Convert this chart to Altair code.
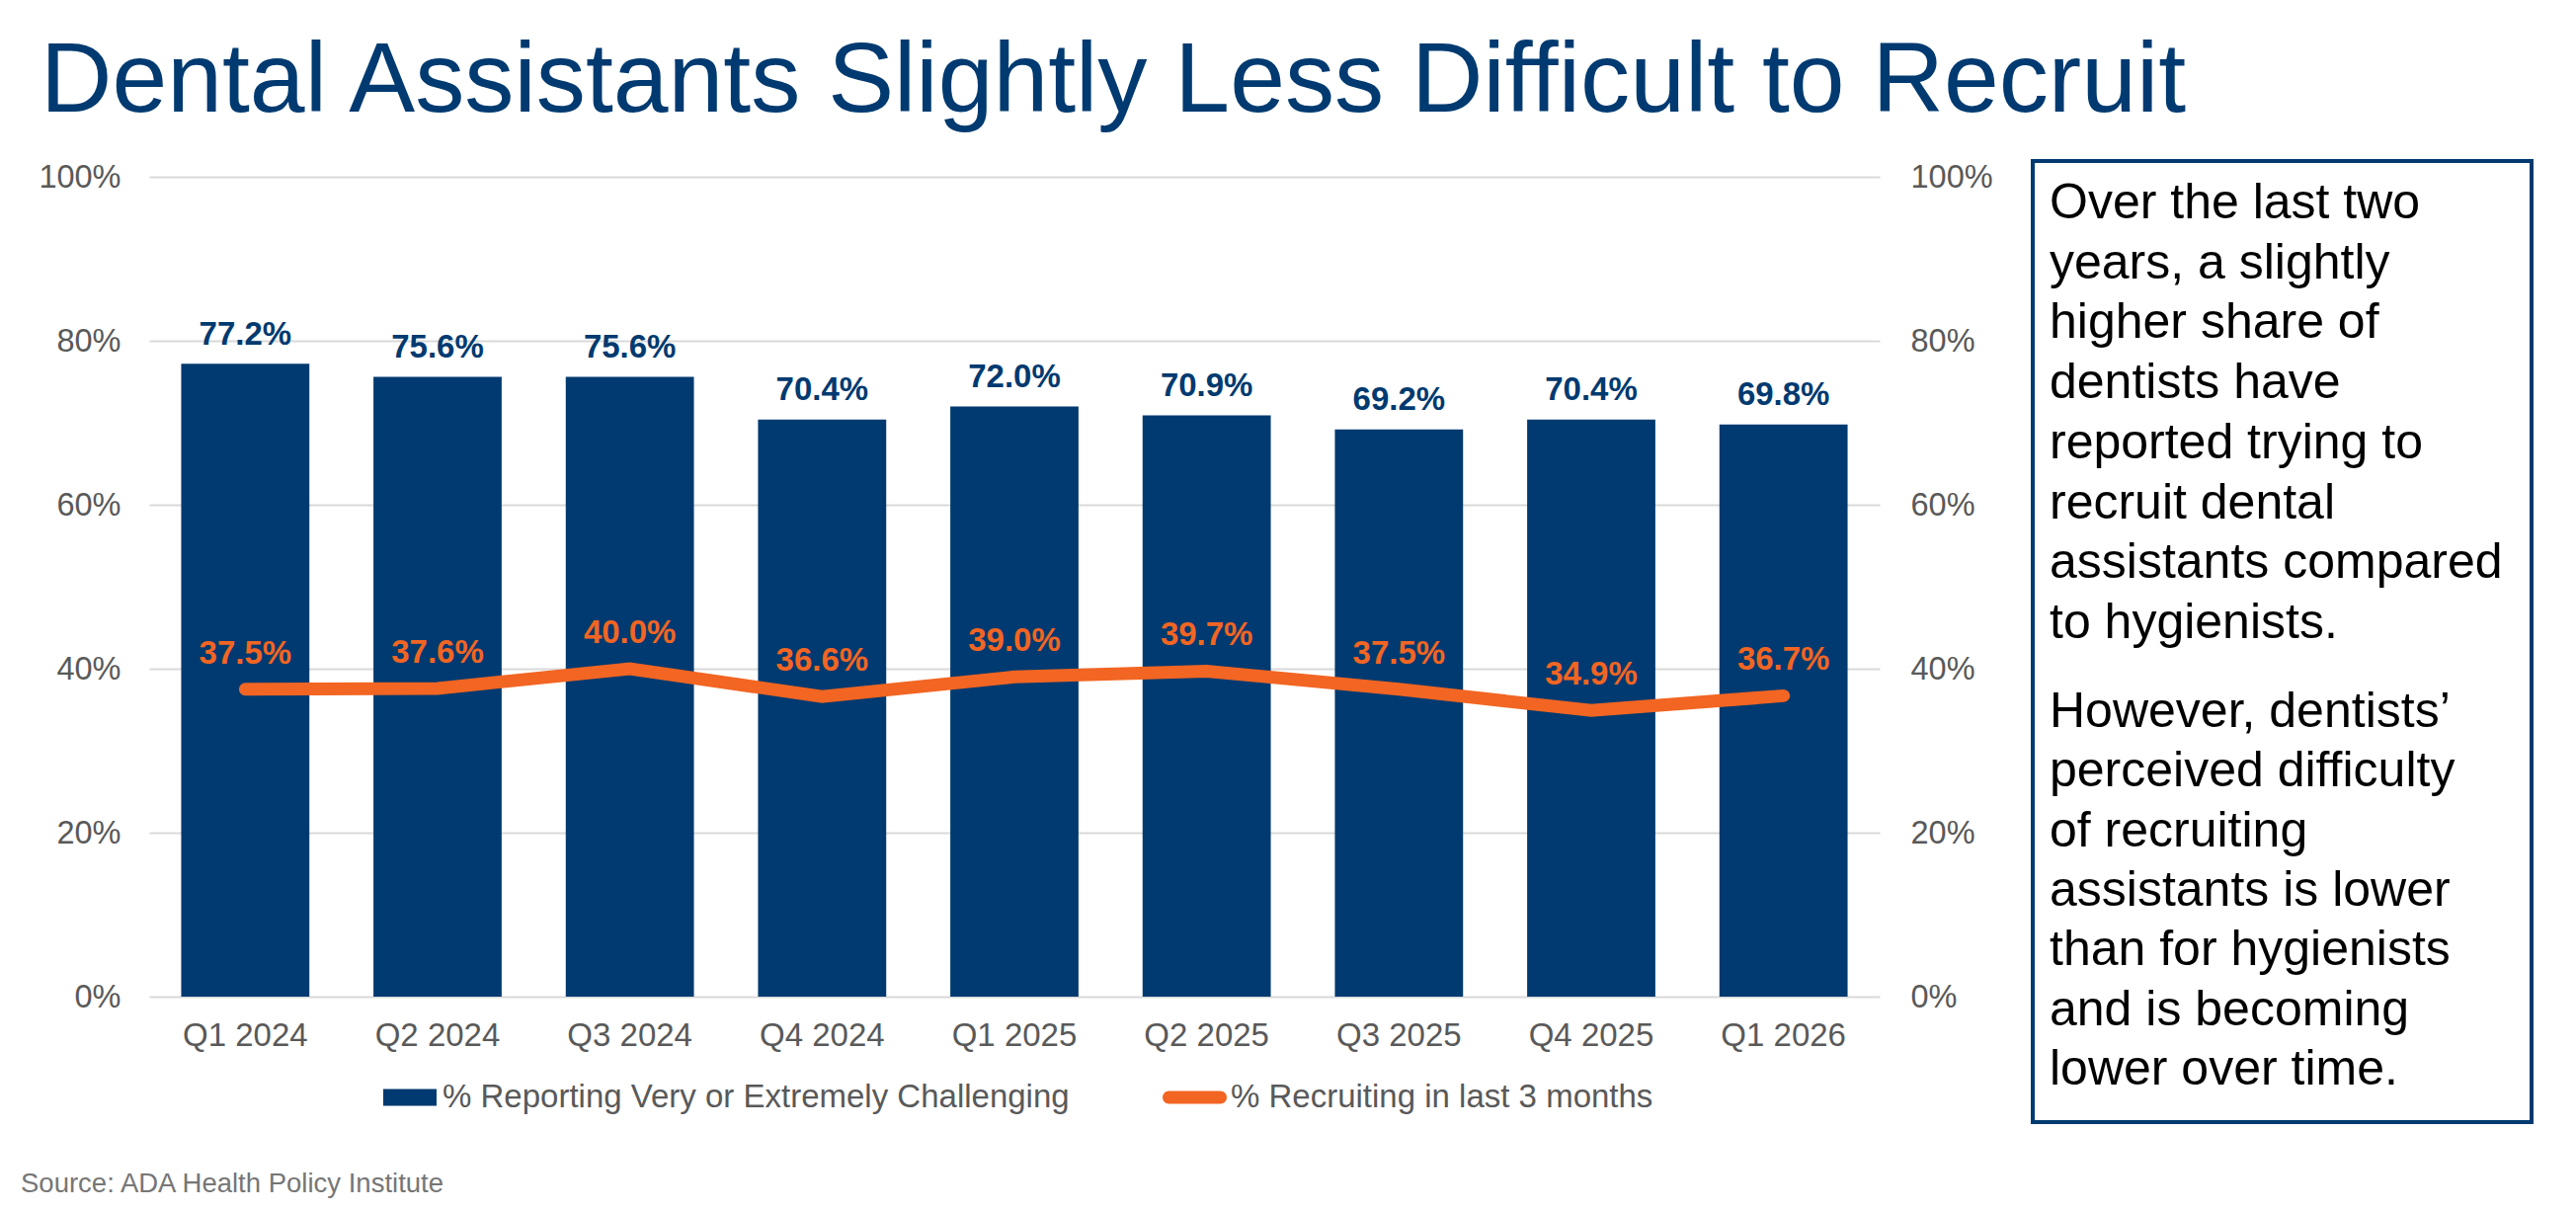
import altair as alt
import pandas as pd

# ---------------- data ----------------
quarters = ["Q1 2024", "Q2 2024", "Q3 2024", "Q4 2024", "Q1 2025",
            "Q2 2025", "Q3 2025", "Q4 2025", "Q1 2026"]
challenging = [77.2, 75.6, 75.6, 70.4, 72.0, 70.9, 69.2, 70.4, 69.8]
recruiting = [37.5, 37.6, 40.0, 36.6, 39.0, 39.7, 37.5, 34.9, 36.7]
y_ticks = [0, 20, 40, 60, 80, 100]
bar_series = "% Reporting Very or Extremely Challenging"
line_series = "% Recruiting in last 3 months"
title_text = "Dental Assistants Slightly Less Difficult to Recruit"
source_text = "Source: ADA Health Policy Institute"
para1 = ["Over the last two", "years, a slightly", "higher share of",
         "dentists have", "reported trying to", "recruit dental",
         "assistants compared", "to hygienists."]
para2 = ["However, dentists\u2019", "perceived difficulty", "of recruiting",
         "assistants is lower", "than for hygienists", "and is becoming",
         "lower over time."]

NAVY = "#003A70"
ORANGE = "#F26522"
GRAY = "#595959"
GRID = "#D9D9D9"
FONT = "Liberation Sans"

df = pd.DataFrame({
    "quarter": quarters,
    "challenging": [v / 100 for v in challenging],
    "recruiting": [v / 100 for v in recruiting],
    "bar_series": [bar_series] * len(quarters),
    "line_series": [line_series] * len(quarters),
})

W, H = 1752, 830

x_axis = alt.Axis(title=None, labelAngle=0, labelFontSize=33, labelColor=GRAY,
                  labelFont=FONT, labelPadding=49, labelBaseline="alphabetic",
                  ticks=False, domain=False, grid=False)
x_enc = alt.X("quarter:N", sort=quarters,
              scale=alt.Scale(paddingInner=1 / 3, paddingOuter=1 / 6),
              axis=x_axis)

y_scale = alt.Scale(domain=[0, 1], nice=False)
tick_vals = [t / 100 for t in y_ticks]
left_axis = alt.Axis(title=None, orient="left", values=tick_vals, format=".0%",
                     labelFontSize=32.5, labelColor=GRAY, labelFont=FONT,
                     labelPadding=29, ticks=False, domain=False,
                     grid=True, gridColor=GRID, gridWidth=2)
right_axis = alt.Axis(title=None, orient="right", values=tick_vals, format=".0%",
                      labelFontSize=32.5, labelColor=GRAY, labelFont=FONT,
                      labelPadding=31, ticks=False, domain=False, grid=False)

base = alt.Chart(df)

bars = base.mark_bar().encode(
    x=x_enc,
    y=alt.Y("challenging:Q", scale=y_scale, axis=left_axis),
    fill=alt.Fill("bar_series:N",
                  scale=alt.Scale(domain=[bar_series], range=[NAVY]),
                  legend=alt.Legend(title=None, orient="none", legendX=237, legendY=905,
                                    symbolType="M-1,-0.315H1V0.315H-1Z", symbolSize=2916,
                                    symbolStrokeWidth=0, labelFontSize=33,
                                    labelColor=GRAY, labelFont=FONT, labelOffset=6,
                                    padding=0, labelLimit=1000)),
)
bar_labels = base.mark_text(dy=-19.5, baseline="alphabetic", fontSize=33,
                            fontWeight="bold", color=NAVY, font=FONT).encode(
    x=x_enc,
    y=alt.Y("challenging:Q", scale=y_scale, axis=left_axis),
    text=alt.Text("challenging:Q", format=".1%"),
)

line = base.mark_line(strokeWidth=13, strokeCap="round").encode(
    x=x_enc,
    y=alt.Y("recruiting:Q", scale=y_scale, axis=right_axis),
    stroke=alt.Stroke("line_series:N",
                      scale=alt.Scale(domain=[line_series], range=[ORANGE]),
                      legend=alt.Legend(title=None, orient="none", legendX=1026,
                                        legendY=899.5,
                                        symbolType="M-0.8,-0.2H0.8A0.2,0.2,0,0,1,0.8,0.2H-0.8A0.2,0.2,0,0,1,-0.8,-0.2Z",
                                        symbolSize=4225, symbolFillColor=ORANGE,
                                        symbolStrokeWidth=0, labelFontSize=33,
                                        labelColor=GRAY, labelFont=FONT, labelOffset=4,
                                        padding=0, labelLimit=1000)),
)
line_labels = base.mark_text(dy=-26, baseline="alphabetic", fontSize=33,
                             fontWeight="bold", color=ORANGE, font=FONT).encode(
    x=x_enc,
    y=alt.Y("recruiting:Q", scale=y_scale, axis=right_axis),
    text=alt.Text("recruiting:Q", format=".1%"),
)

left_layer = alt.layer(bars, bar_labels)
right_layer = alt.layer(line, line_labels)

one = pd.DataFrame({"k": [0]})

title_mark = alt.Chart(one).mark_text(
    text=title_text, align="left", baseline="alphabetic", fontSize=100.3,
    color=NAVY, font=FONT).encode(x=alt.value(-110), y=alt.value(-66))

box = alt.Chart(one).mark_rect(fill="white", stroke=NAVY, strokeWidth=4).encode(
    x=alt.value(1907), x2=alt.value(2412), y=alt.value(-16), y2=alt.value(957))

p1 = alt.Chart(one).mark_text(
    text=para1, align="left", baseline="alphabetic", fontSize=50,
    lineHeight=60.7, color="black", font=FONT).encode(x=alt.value(1924), y=alt.value(42))
p2 = alt.Chart(one).mark_text(
    text=para2, align="left", baseline="alphabetic", fontSize=50,
    lineHeight=60.3, color="black", font=FONT).encode(x=alt.value(1924), y=alt.value(557))

source = alt.Chart(one).mark_text(
    text=source_text, align="left", baseline="alphabetic", fontSize=27.5,
    color="#767676", font=FONT).encode(x=alt.value(-130), y=alt.value(1028))

chart = alt.layer(left_layer, right_layer, title_mark, box, p1, p2, source).resolve_scale(
    y="independent"
).properties(
    width=W, height=H,
    autosize=alt.AutoSizeParams(type="none"),
    padding={"left": 143, "top": 171, "right": 693, "bottom": 205},
).configure_view(stroke=None).configure_text(font=FONT)

chart.save("out.html", embed_options={"renderer": "svg", "actions": False})
